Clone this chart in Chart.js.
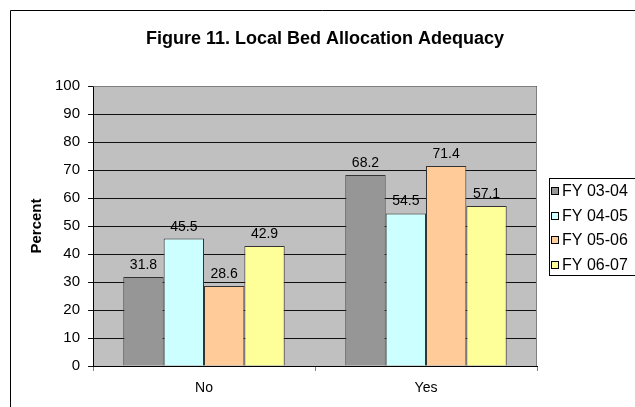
<!DOCTYPE html>
<html>
<head>
<meta charset="utf-8">
<script src="https://cdn.jsdelivr.net/npm/chart.js@4/dist/chart.umd.min.js"></script>
<style>
  html, body { margin: 0; padding: 0; background: #ffffff; }
  #wrap { position: relative; width: 635px; height: 407px; }
</style>
</head>
<body>
<div id="wrap"><canvas id="c" width="635" height="407"></canvas></div>
<script>
const chartTitle = 'Figure 11. Local Bed Allocation Adequacy';
const yAxisTitle = 'Percent';
const categories = ['No', 'Yes'];
const seriesNames = ['FY 03-04', 'FY 04-05', 'FY 05-06', 'FY 06-07'];
const fy0304 = [31.8, 68.2];
const fy0405 = [45.5, 54.5];
const fy0506 = [28.6, 71.4];
const fy0607 = [42.9, 57.1];
const seriesColors = ['#969696', '#CCFFFF', '#FFCC99', '#FFFF99'];
const yMin = 0, yMax = 100, yStep = 10;

const FONT = 'Arial, "Liberation Sans", sans-serif';

const frame = {
  id: 'frame',
  beforeDraw(chart) {
    const {ctx, chartArea: a} = chart;
    ctx.save();
    ctx.fillStyle = '#C0C0C0';
    ctx.fillRect(a.left, a.top, a.right - a.left, a.bottom - a.top);
    ctx.strokeStyle = '#000';
    ctx.lineWidth = 1;
    ctx.beginPath();
    ctx.moveTo(10.5, 407);
    ctx.lineTo(10.5, 10.5);
    ctx.lineTo(635, 10.5);
    ctx.stroke();
    ctx.restore();
  },
  afterDatasetsDraw(chart) {
    const {ctx, chartArea: a} = chart;
    ctx.save();
    ctx.strokeStyle = '#808080';
    ctx.lineWidth = 1;
    ctx.beginPath();
    ctx.moveTo(Math.round(a.left) + 0.5, Math.round(a.top) + 0.5);
    ctx.lineTo(Math.round(a.right) - 0.5, Math.round(a.top) + 0.5);
    ctx.lineTo(Math.round(a.right) - 0.5, Math.round(a.bottom));
    ctx.stroke();
    // data labels
    ctx.fillStyle = '#000';
    ctx.font = '14px ' + FONT;
    ctx.textAlign = 'center';
    ctx.textBaseline = 'alphabetic';
    chart.data.datasets.forEach((ds, i) => {
      const meta = chart.getDatasetMeta(i);
      meta.data.forEach((el, j) => {
        ctx.fillText(ds.data[j].toFixed(1), el.x, el.y - 8);
      });
    });
    // legend
    const lx = 549, ly = 178, lw = 100, lh = 98;
    ctx.fillStyle = '#fff';
    ctx.fillRect(lx, ly, lw, lh);
    ctx.strokeStyle = '#000';
    ctx.strokeRect(lx + 0.5, ly + 0.5, lw, lh - 1);
    ctx.font = '16px ' + FONT;
    ctx.textAlign = 'left';
    ctx.textBaseline = 'middle';
    chart.data.datasets.forEach((ds, i) => {
      const cy = ly + 13 + i * 24.5;
      ctx.fillStyle = ds.backgroundColor;
      ctx.fillRect(551, Math.round(cy) - 4, 8, 8);
      ctx.strokeStyle = '#000';
      ctx.strokeRect(551.5, Math.round(cy) - 3.5, 7, 7);
      ctx.fillStyle = '#000';
      ctx.fillText(ds.label, 562, cy + 1);
    });
    ctx.restore();
  }
};

const seriesData = [fy0304, fy0405, fy0506, fy0607];

new Chart(document.getElementById('c'), {
  type: 'bar',
  data: {
    labels: categories,
    datasets: seriesNames.map((name, i) => ({
      label: name,
      data: seriesData[i],
      backgroundColor: seriesColors[i],
      borderColor: '#333',
      borderWidth: 1,
      categoryPercentage: 0.727,
      barPercentage: 1.0
    }))
  },
  options: {
    responsive: false,
    animation: false,
    devicePixelRatio: 1,
    layout: { padding: { left: 15, right: 0, top: 0, bottom: 0 } },
    plugins: {
      legend: { display: false },
      tooltip: { enabled: false },
      title: {
        display: true,
        text: chartTitle,
        color: '#000',
        font: { family: FONT, size: 18, weight: 'bold' },
        padding: { top: 28, bottom: 36.4 }
      }
    },
    scales: {
      x: {
        grid: { display: true, drawOnChartArea: false, drawTicks: true, tickLength: 5, color: '#808080', offset: true },
        border: { color: '#000', width: 1 },
        ticks: { color: '#000', font: { family: FONT, size: 14 }, padding: 9 },
        afterFit(s) { s.height = 41; }
      },
      y: {
        min: yMin, max: yMax,
        ticks: { stepSize: yStep, color: '#000', font: { family: FONT, size: 15 }, padding: 8 },
        grid: { color: '#111', tickLength: 5, drawTicks: true },
        border: { color: '#000', width: 1 },
        title: { display: true, text: yAxisTitle, color: '#000', font: { family: FONT, size: 15, weight: 'bold' }, padding: { top: 13, bottom: 0 } },
        afterFit(s) { s.width = 78; }
      },
      yRight: {
        position: 'right',
        display: true,
        grid: { display: false },
        border: { display: false },
        ticks: { display: false },
        afterFit(s) { s.width = 98; }
      }
    }
  },
  plugins: [frame]
});
</script>
</body>
</html>
